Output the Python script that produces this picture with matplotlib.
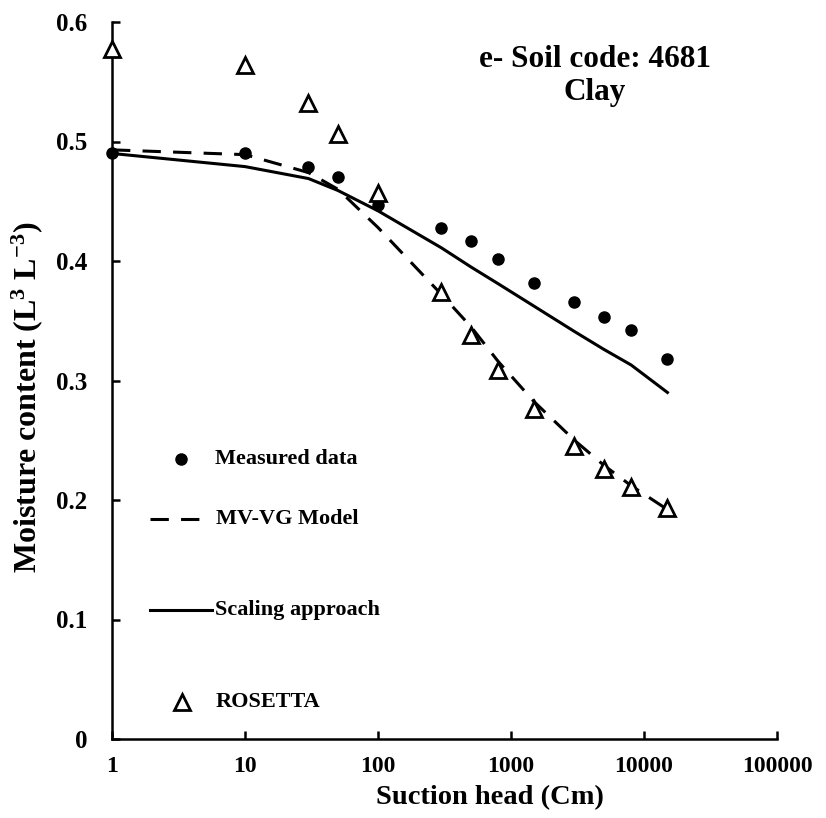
import matplotlib
matplotlib.use("Agg")
import matplotlib.pyplot as plt
from matplotlib.ticker import FixedLocator, FixedFormatter, NullLocator

plt.rcParams['font.family'] = ['Liberation Serif', 'DejaVu Serif']
plt.rcParams['font.weight'] = 'bold'
plt.rcParams['mathtext.fontset'] = 'custom'
plt.rcParams['mathtext.rm'] = 'Liberation Serif:bold'
plt.rcParams['mathtext.it'] = 'Liberation Serif:bold'
plt.rcParams['mathtext.bf'] = 'Liberation Serif:bold'

# Data
suction = [1, 10, 30, 50, 100, 300, 500, 800, 1500, 3000, 5000, 8000, 15000]
measured = [0.490, 0.490, 0.479, 0.470, 0.447, 0.428, 0.417, 0.402, 0.382, 0.366, 0.353, 0.342, 0.318]
rosetta = [0.577, 0.564, 0.532, 0.506, 0.457, 0.374, 0.338, 0.309, 0.276, 0.245, 0.226, 0.211, 0.193]
mvvg = [0.493, 0.489, 0.474, 0.460, 0.428, 0.372, 0.345, 0.316, 0.282, 0.250, 0.229, 0.212, 0.192]
scaling = [0.490, 0.479, 0.469, 0.459, 0.442, 0.411, 0.395, 0.381, 0.362, 0.341, 0.326, 0.313, 0.290]

x_ticks = [1, 10, 100, 1000, 10000, 100000]
x_ticklabels = ["1", "10", "100", "1000", "10000", "100000"]
y_ticks = [0, 0.1, 0.2, 0.3, 0.4, 0.5, 0.6]
y_ticklabels = ["0", "0.1", "0.2", "0.3", "0.4", "0.5", "0.6"]

fig = plt.figure(figsize=(8.26, 8.18), dpi=100)
ax = fig.add_axes([112/826, 1-739/818, 665/826, 717/818])

ax.set_xscale('log')
ax.set_xlim(1, 100000)
ax.set_ylim(0, 0.6)

lw = 2.2
ax.plot(suction, mvvg, color='black', lw=lw, linestyle=(0, (6, 4)), clip_on=False, zorder=3)
ax.plot(suction, scaling, color='black', lw=lw, clip_on=False, zorder=3)
ax.plot(suction, measured, linestyle='none', marker='o', ms=8, color='black', clip_on=False, zorder=4)
ax.plot(suction, rosetta, linestyle='none', marker='^', ms=11, mfc='white', mec='black', mew=2,
        clip_on=False, zorder=4)

# Spines / ticks
for s in ['top', 'right']:
    ax.spines[s].set_visible(False)
for s in ['left', 'bottom']:
    ax.spines[s].set_linewidth(1.8)
ax.xaxis.set_major_locator(FixedLocator(x_ticks))
ax.xaxis.set_major_formatter(FixedFormatter(x_ticklabels))
ax.xaxis.set_minor_locator(NullLocator())
ax.yaxis.set_major_locator(FixedLocator(y_ticks))
ax.yaxis.set_major_formatter(FixedFormatter(y_ticklabels))
ax.tick_params(direction='in', length=6, width=1.8, labelsize=18)
ax.tick_params(axis='x', labelsize=17, pad=12)
ax.tick_params(axis='y', pad=18)

ax.set_xlabel('Suction head (Cm)', fontsize=20.5, fontweight='bold')
ax.xaxis.set_label_coords(0.568, -0.064)
ax.set_ylabel(r'Moisture content (L$^{3}$ L$^{-3}$)', fontsize=23, fontweight='bold')
ax.yaxis.set_label_coords(-0.10, 0.476)

# Annotation
ax.text(0.7256, 0.925, 'e- Soil code: 4681\nClay', transform=ax.transAxes, ha='center', va='center',
        fontsize=22.5, fontweight='bold', linespacing=1.2)

# Manual legend (Excel-style, spread out)
tr = ax.transAxes
ax.plot([0.104], [0.3905], transform=tr, marker='o', ms=8, color='black', clip_on=False)
ax.text(0.155, 0.3905, 'Measured data', transform=tr, va='center', fontsize=16, fontweight='bold')
ax.plot([0.057, 0.140], [0.307, 0.307], transform=tr, color='black', lw=lw, linestyle=(0, (6, 4)),
        clip_on=False)
ax.text(0.156, 0.307, 'MV-VG Model', transform=tr, va='center', fontsize=16, fontweight='bold')
ax.plot([0.057, 0.151], [0.180, 0.180], transform=tr, color='black', lw=lw, clip_on=False)
ax.text(0.155, 0.180, 'Scaling approach', transform=tr, va='center', fontsize=16, fontweight='bold')
ax.plot([0.105], [0.0516], transform=tr, marker='^', ms=11, mfc='white', mec='black', mew=2,
        clip_on=False)
ax.text(0.156, 0.0516, 'ROSETTA', transform=tr, va='center', fontsize=16, fontweight='bold')

fig.savefig('out.png', dpi=100)
